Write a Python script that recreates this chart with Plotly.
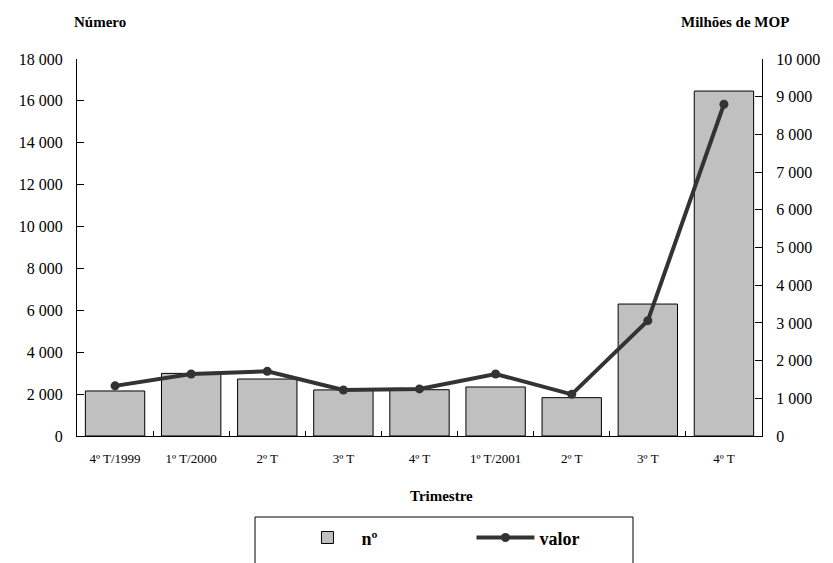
import plotly.graph_objects as go

categories = ["4º T/1999", "1º T/2000", "2º T", "3º T", "4º T", "1º T/2001", "2º T", "3º T", "4º T"]
numero = [2150, 2990, 2720, 2200, 2210, 2340, 1830, 6300, 16470]
valor = [1330, 1645, 1715, 1220, 1250, 1645, 1105, 3060, 8800]

xpos = list(range(len(categories)))
FONT = "'Liberation Serif', 'Times New Roman', serif"

fig = go.Figure()
fig.add_trace(go.Bar(
    x=xpos, y=numero, name="nº",
    marker=dict(color="#c0c0c0", line=dict(color="#000000", width=1)),
    width=0.78, yaxis="y",
))
fig.add_trace(go.Scatter(
    x=xpos, y=valor, name="valor", mode="lines+markers",
    line=dict(color="#333333", width=4),
    marker=dict(color="#333333", size=9),
    yaxis="y2",
))

fig.update_layout(
    width=833, height=563,
    margin=dict(l=77, r=71, t=59, b=127, autoexpand=False),
    paper_bgcolor="white", plot_bgcolor="white",
    separators=", ",
    font=dict(family=FONT, color="#000000", size=16),
    showlegend=True,
    legend=dict(
        orientation="h", x=0.316, y=-0.27, xanchor="left", yanchor="middle",
        font=dict(family=FONT, size=18, color="#000000", weight="bold"),
        entrywidth=105, entrywidthmode="pixels", itemwidth=58,
        bgcolor="rgba(0,0,0,0)", traceorder="normal",
    ),
    xaxis=dict(
        range=[-0.5, 8.5], tickmode="array", tickvals=xpos, ticktext=categories,
        ticks="", showline=True, linecolor="#000000", linewidth=1,
        showgrid=False, zeroline=False,
        tickfont=dict(family=FONT, size=13),
        ticklabelstandoff=10,
        minor=dict(tickmode="array", tickvals=[i + 0.5 for i in range(8)],
                   ticks="inside", ticklen=5, tickcolor="#000000", tickwidth=1),
    ),
    yaxis=dict(
        range=[0, 18000], dtick=2000, tickformat=",d",
        ticks="inside", ticklen=7, tickcolor="#000000",
        showline=True, linecolor="#000000", linewidth=1,
        showgrid=False, zeroline=False,
        tickfont=dict(family=FONT, size=16),
        ticklabelstandoff=10,
    ),
    yaxis2=dict(
        range=[0, 10000], dtick=1000, tickformat=",d", overlaying="y", side="right",
        ticks="inside", ticklen=7, tickcolor="#000000",
        showline=True, linecolor="#000000", linewidth=1,
        showgrid=False, zeroline=False,
        tickfont=dict(family=FONT, size=16),
        ticklabelstandoff=10,
    ),
    bargap=0.22,
)

fig.add_annotation(text="<b>Número</b>", xref="paper", yref="paper", x=(100 - 77) / 685, y=(436 - 22) / 377,
                   showarrow=False, font=dict(family=FONT, size=15), xanchor="center", yanchor="middle")
fig.add_annotation(text="<b>Milhões de MOP</b>", xref="paper", yref="paper", x=(735 - 77) / 685, y=(436 - 22) / 377,
                   showarrow=False, font=dict(family=FONT, size=15), xanchor="center", yanchor="middle")
fig.add_annotation(text="<b>Trimestre</b>", xref="paper", yref="paper", x=(441 - 77) / 685, y=(436 - 496) / 377,
                   showarrow=False, font=dict(family=FONT, size=15), xanchor="center", yanchor="middle")
fig.add_shape(type="rect", xref="paper", yref="paper",
              x0=(255 - 77) / 685, x1=(633 - 77) / 685, y0=(436 - 517) / 377, y1=(436 - 600) / 377,
              line=dict(color="#000000", width=1), fillcolor="rgba(0,0,0,0)", layer="above")

fig.write_html("out.html", config={"displayModeBar": False},
               post_script="document.body.style.margin='0';document.body.style.overflow='hidden';")
